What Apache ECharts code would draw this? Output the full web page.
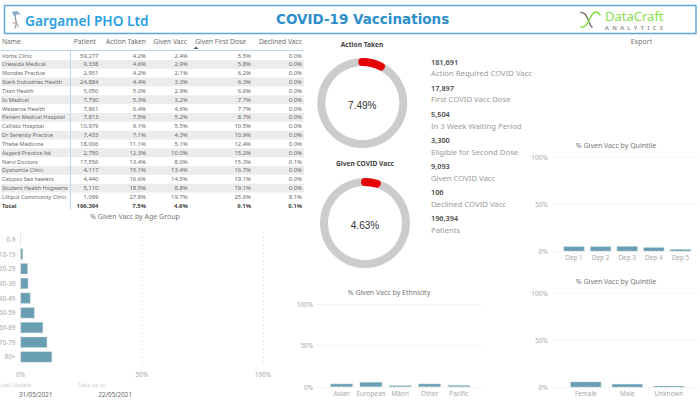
<!DOCTYPE html>
<html><head><meta charset="utf-8">
<style>html,body{margin:0;padding:0;background:#fff}#c{width:700px;height:409px}</style>
<script src="https://cdn.jsdelivr.net/npm/echarts@6/dist/echarts.min.js"></script>
</head><body><div id="c"></div>
<script>
const clinics=["Vortis Clinic","Cressida Medical","Mondas Practice","Stark Industries Health","Titan Health","Io Medical","Westeros Health","Panem Medical Hospital","Callisto Hospital","Dr Serenity Practice","Thebe Medicine","Asgard Practice ltd","Narvi Doctors","Dysnomia Clinic","Calypso Sea healers","Student Health Hogwarts","Lilliput Community Clinic"];
const patients=["59,277","9,338","2,951","24,884","5,050","7,730","7,861","7,813","10,979","7,433","18,006","2,750","17,556","4,117","4,440","5,110","1,099"];
const actionTaken=["4.2%","4.6%","4.2%","4.4%","5.0%","5.3%","6.4%","7.5%","9.1%","7.1%","11.1%","12.3%","13.4%","15.1%","16.6%","18.5%","27.8%"];
const givenVacc=["2.4%","2.9%","2.1%","3.3%","2.9%","3.2%","4.6%","5.2%","5.5%","4.3%","5.1%","10.0%","8.0%","13.4%","14.5%","8.8%","19.7%"];
const firstDose=["5.5%","5.8%","6.2%","6.3%","6.6%","7.7%","7.7%","8.7%","10.5%","10.9%","12.4%","15.2%","15.3%","16.7%","19.1%","19.1%","25.6%"];
const declined=["0.0%","0.0%","0.0%","0.0%","0.0%","0.0%","0.0%","0.0%","0.0%","0.0%","0.0%","0.0%","0.1%","0.0%","0.0%","0.0%","8.1%"];
const totals=["Total","196,394","7.5%","4.6%","9.1%","0.1%"];
const headers=["Name","Patient","Action Taken","Given Vacc","Given First Dose","Declined Vacc"];
const ageGroups=["0-9","10-19","20-29","30-39","40-49","50-59","60-69","70-79","80+"];
const ageValues=[0,1,3,3.2,4.1,5.8,9.3,11,13];
const ethnicities=["Asian","European","Māori","Other","Pacific"];
const ethnicityValues=[4,6,2,4,2.2];
const quintiles=["Dep 1","Dep 2","Dep 3","Dep 4","Dep 5"];
const quintileValues=[5.3,5.3,5.5,4.4,2.3];
const genders=["Female","Male","Unknown"];
const genderValues=[6,3.6,1.6];
const kpiValues=["181,691","17,897","5,504","3,300","9,093","106","196,394"];
const kpiLabels=["Action Required COVID Vacc","First COVID Vacc Dose","In 3 Week Waiting Period","Eligible for Second Dose","Given COVID Vacc","Declined COVID Vacc","Patients"];
const actionPct=7.49, givenPct=4.63;

const BAR='#6a9fb3', BORD='#d3e3e9', GRID='#dcdcdc', AX='#a8a8a8';
const FF='"Noto Sans","Open Sans",sans-serif';
const g=[];
const T=(x,y,text,o={})=>g.push({type:'text',silent:true,x,y,style:Object.assign({text,fill:'#666',font:`${o.w||'normal'} ${o.s||6}px ${o.f||FF}`,textAlign:o.a||'left',textVerticalAlign:'middle'},o.st||{})});
const R=(x,y,w,h,fill,stroke,lw)=>g.push({type:'rect',silent:true,shape:{x,y,width:w,height:h},style:{fill:fill||'none',stroke:stroke||null,lineWidth:lw||0}});
const L=(x1,y1,x2,y2,stroke,lw)=>g.push({type:'line',silent:true,shape:{x1,y1,x2,y2},style:{stroke,lineWidth:lw}});
const C=(x1,y1,cpx1,cpy1,cpx2,cpy2,x2,y2,stroke,lw)=>g.push({type:'bezierCurve',silent:true,shape:{x1,y1,cpx1,cpy1,cpx2,cpy2,x2,y2},style:{stroke,lineWidth:lw,fill:'none',lineCap:'round'}});
const PG=(points,fill)=>g.push({type:'polygon',silent:true,shape:{points},style:{fill}});

R(4.5,5.5,691.5,28,'#fff','#5ea6dc',1.4);
T(25,20,'Gargamel PHO Ltd',{s:13.7,w:'600',st:{fill:'#2a9fe6'}});
T(276,19,'COVID-19 Vaccinations',{s:13.5,w:'bold',f:'"DejaVu Sans",sans-serif',st:{fill:'#2e8fcb'}});
// left logo
PG([[12,12],[17,11],[21,15],[17,14],[14,16]],'#7fa8c8');
C(16,14,13,19,19,21,15,28,'#8a9ab0',1.2);
C(13,23,16,22,19,24,18,27,'#c98a8a',1);
// right logo
C(581,12.5,588,12,588,24,592,27,'#777777',1.5);
C(581,27,590,28,589,12,596,12,'#8ade4e',1.6);
C(596,12,598,12,599,13,600,15,'#8ade4e',1.6);
T(605,15.5,'DataCraft',{s:13,st:{fill:'#8ade4e'}});
T(605,27.5,'A\u2002\u200AN\u2002\u200AA\u2002\u200AL\u2002\u200AY\u2002\u200AT\u2002\u200AI\u2002\u200AC\u2002\u200AS',{s:5.6,w:'bold',st:{fill:'#999'}});
T(641.5,41,'Export',{s:7,a:'center',st:{fill:'#777'}});

// table
const cols=[2,98.5,146,187.7,251,302];
const hdrX=[2,96,146,187,246,302];
const Y0=55.5, DY=8.84;
for(let i=1;i<clinics.length;i+=2)R(1,Y0+i*DY-4.4,303,8.8,'#ececec');
L(70.5,50,70.5,210,'#bcd6ee',1);
L(1,50.5,304,50.5,'#bcd6ee',1);
headers.forEach((h,i)=>T(hdrX[i],41,h,{s:6.7,a:i?'right':'left',st:{fill:'#6e6e6e'}}));
PG([[193.5,49],[198.5,49],[196,46.6]],'#555');
clinics.forEach((n,i)=>{
 const y=Y0+i*DY;
 [n,patients[i],actionTaken[i],givenVacc[i],firstDose[i],declined[i]].forEach((v,j)=>T(cols[j],y,v,{s:j?5.9:5.55,a:j?'right':'left',st:{fill:'#6a6a6a'}}));
});
totals.forEach((v,j)=>T(cols[j],Y0+17*DY,v,{s:5.9,w:'bold',a:j?'right':'left',st:{fill:'#444'}}));

// KPIs
kpiValues.forEach((v,i)=>{
 T(431,62+i*26,v,{s:7.3,w:'600',st:{fill:'#4a4a4a'}});
 T(431,73.3+i*26.1,kpiLabels[i],{s:7.7,st:{fill:'#9a9a9a'}});
});

// titles
const ttl=(x,y,t,o)=>T(x,y,t,Object.assign({s:7,a:'center',st:{fill:'#777'}},o||{}));
ttl(135,216,'% Given Vacc by Age Group');
ttl(389,292,'% Given Vacc by Ethnicity');
ttl(616,145,'% Given Vacc by Quintile');
ttl(616,281,'% Given Vacc by Quintile');
ttl(362,44,'Action Taken',{s:6.6,w:'bold',st:{fill:'#444'}});
ttl(365,163,'Given COVID Vacc',{s:6.6,w:'bold',st:{fill:'#444'}});
// dates
T(0,385,'Last Update',{s:5.6,st:{fill:'#cfcfcf'}});
T(78,385,'Data up to',{s:5.6,st:{fill:'#cfcfcf'}});
T(19,394.5,'31/05/2021',{s:6.3,st:{fill:'#666'}});
T(98.5,394.5,'22/05/2021',{s:6.3,st:{fill:'#666'}});

// charts
const grids=[],xA=[],yA=[],series=[];
const dotted={show:true,lineStyle:{color:GRID,type:[1,3],width:1}};
const lab={color:AX,fontSize:6.4,fontFamily:FF};
const barStyle={color:BAR,borderColor:BORD,borderWidth:0.4};
function addCol(cats,vals,top,bottom,lineL,lineR,barL,barR,bw){
 let i=grids.length;
 grids.push({left:lineL,top,width:lineR-lineL,height:bottom-top,outerBoundsMode:'none'});
 xA.push({type:'category',gridIndex:i,data:[],show:false});
 yA.push({type:'value',gridIndex:i,min:0,max:100,interval:50,axisLine:{show:false},axisTick:{show:false},splitLine:dotted,axisLabel:Object.assign({formatter:'{value}%',margin:5},lab)});
 i=grids.length;
 grids.push({left:barL,top,width:barR-barL,height:bottom-top,outerBoundsMode:'none'});
 xA.push({type:'category',gridIndex:i,data:cats,axisLine:{show:false},axisTick:{show:false},axisLabel:Object.assign({margin:3.5,interval:0},lab)});
 yA.push({type:'value',gridIndex:i,min:0,max:100,interval:50,show:false,splitLine:{show:false}});
 series.push({type:'bar',xAxisIndex:i,yAxisIndex:i,data:vals,barWidth:bw,itemStyle:barStyle,silent:true});
}
grids.push({left:20.5,top:232,width:242.5,height:132.3,outerBoundsMode:'none'});
xA.push({type:'value',gridIndex:0,min:0,max:100,interval:50,axisLine:{show:false},axisTick:{show:false},splitLine:dotted,axisLabel:Object.assign({formatter:'{value}%',margin:7},lab)});
yA.push({type:'category',gridIndex:0,data:ageGroups,inverse:true,axisLine:{show:false},axisTick:{show:false},axisLabel:Object.assign({margin:5,interval:0},lab)});
series.push({type:'bar',xAxisIndex:0,yAxisIndex:0,data:ageValues,barWidth:11,itemStyle:barStyle,silent:true});

addCol(ethnicities,ethnicityValues,304,387,318,483,327,473.5,22.5);
addCol(quintiles,quintileValues,157.7,251.3,552.7,698,560.7,693.7,21);
addCol(genders,genderValues,293.7,387.3,552.7,698,565,689.7,31);

function gauge(cx,cy,v){
 series.push({type:'gauge',center:[cx,cy],radius:45,min:0,max:100,startAngle:90,endAngle:-270,
  axisLine:{lineStyle:{width:8,color:[[1,'#cccccc']]}},
  progress:{show:true,width:8,roundCap:true,itemStyle:{color:'#e60000'}},
  pointer:{show:false},axisTick:{show:false},splitLine:{show:false},axisLabel:{show:false},title:{show:false},
  detail:{valueAnimation:false,formatter:x=>x.toFixed(2)+'%',offsetCenter:[0,2],fontSize:10,fontWeight:'normal',color:'#333',fontFamily:'"Liberation Sans",Arial,sans-serif'},
  data:[{value:v}],silent:true});
}
gauge(362.3,103,actionPct);
gauge(365,223,givenPct);

const chart=echarts.init(document.getElementById('c'),null,{renderer:'svg',width:700,height:409});
chart.setOption({animation:false,backgroundColor:'#fff',grid:grids,xAxis:xA,yAxis:yA,series,graphic:{elements:g}});
</script></body></html>
